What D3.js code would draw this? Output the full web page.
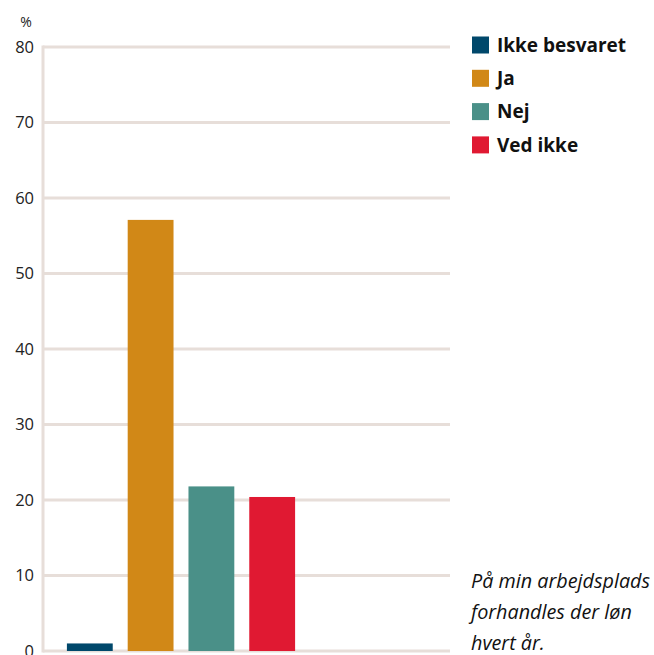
<!DOCTYPE html>
<html>
<head>
  <meta charset="utf-8">
  <script src="https://d3js.org/d3.v7.min.js"></script>
  <style>
    body { margin: 0; background: #fff; }
    svg { display: block; font-family: "Open Sans", sans-serif; }
  </style>
</head>
<body>
  <svg id="chart" width="654" height="655"></svg>

  <script>
    // Data for the chart
    const categories = ['Ikke besvaret', 'Ja', 'Nej', 'Ved ikke'];
    const values = [1.0, 57.1, 21.8, 20.4];
    const colors = ['#00486b', '#d18817', '#4a9088', '#e01932'];
    const yTicks = [0, 10, 20, 30, 40, 50, 60, 70, 80];
    const note = ['På min arbejdsplads', 'forhandles der løn', 'hvert år.'];

    const svg = d3.select('#chart');

    // Plot area
    const plotLeft = 43, plotRight = 450, plotTop = 47, plotBottom = 651;

    const y = d3.scaleLinear()
      .domain([0, 80])
      .range([plotBottom, plotTop]);

    const x = d3.scaleBand()
      .domain(categories)
      .range([59, 303])
      .paddingInner(0.246)
      .paddingOuter(0.13);

    // Gridlines
    svg.append('g')
      .selectAll('line')
      .data(yTicks)
      .join('line')
      .attr('x1', plotLeft)
      .attr('x2', plotRight)
      .attr('y1', d => y(d))
      .attr('y2', d => y(d))
      .attr('stroke', '#e7ded9')
      .attr('stroke-width', 3);

    // Left axis line
    svg.append('line')
      .attr('x1', plotLeft)
      .attr('x2', plotLeft)
      .attr('y1', plotTop - 1.5)
      .attr('y2', plotBottom + 1.5)
      .attr('stroke', '#e7ded9')
      .attr('stroke-width', 3);

    // Tick labels
    svg.append('g')
      .selectAll('text')
      .data(yTicks)
      .join('text')
      .attr('x', 34)
      .attr('y', d => y(d))
      .attr('dy', '0.36em')
      .attr('text-anchor', 'end')
      .attr('font-size', 16.5)
      .attr('fill', '#222')
      .text(d => d);

    svg.append('text')
      .attr('x', 26)
      .attr('y', 27)
      .attr('text-anchor', 'middle')
      .attr('font-size', 14)
      .attr('fill', '#222')
      .text('%');

    // Bars
    svg.append('g')
      .selectAll('rect')
      .data(values)
      .join('rect')
      .attr('x', (d, i) => x(categories[i]))
      .attr('width', x.bandwidth())
      .attr('y', d => y(d))
      .attr('height', d => y(0) - y(d))
      .attr('fill', (d, i) => colors[i]);

    // Legend
    const legend = svg.append('g')
      .selectAll('g')
      .data(categories)
      .join('g')
      .attr('transform', (d, i) => `translate(472, ${45 + i * 33.3})`);

    legend.append('rect')
      .attr('x', 0)
      .attr('y', -8.5)
      .attr('width', 17)
      .attr('height', 17)
      .attr('fill', (d, i) => colors[i]);

    legend.append('text')
      .attr('x', 25)
      .attr('dy', '0.36em')
      .attr('font-size', 19)
      .attr('font-weight', 'bold')
      .attr('fill', '#111')
      .text(d => d);

    // Note
    svg.append('g')
      .selectAll('text')
      .data(note)
      .join('text')
      .attr('x', 471)
      .attr('y', (d, i) => 588 + i * 31)
      .attr('font-size', 19.8)
      .attr('font-style', 'italic')
      .attr('fill', '#111')
      .text(d => d);
  </script>
</body>
</html>
